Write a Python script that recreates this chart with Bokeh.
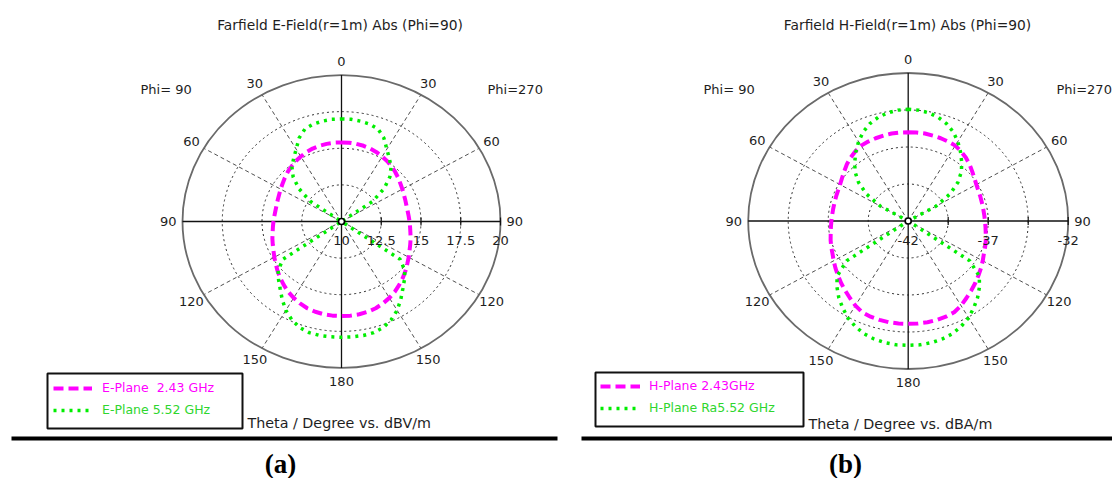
import numpy as np
from bokeh.plotting import figure
from bokeh.models import Range1d, Label, Legend, LegendItem, BoxAnnotation
from bokeh.layouts import row
from bokeh.embed import file_html
from bokeh.resources import INLINE

# ---------------- data (theta in degrees, 0..180, mirrored for Phi=90 side) -------------
theta_deg = list(range(0, 181, 5))

# (a) E-field, dBV/m
e_plane_243 = [15.40, 15.40, 15.38, 15.35, 15.30, 15.22, 15.12, 15.02, 14.90, 14.78,
               14.65, 14.52, 14.42, 14.33, 14.27, 14.23, 14.22, 14.24, 14.28, 14.33,
               14.40, 14.50, 14.60, 14.72, 14.88, 15.05, 15.25, 15.45, 15.65, 15.85,
               16.02, 16.17, 16.30, 16.38, 16.43, 16.45, 16.45]
e_plane_552 = [17.00, 17.00, 16.95, 16.88, 16.72, 16.30, 15.70, 15.25, 14.85, 14.30,
               13.50, 12.40, 10.00, 10.00, 10.00, 10.00, 10.00, 10.00, 10.00, 10.00,
               10.00, 10.00, 10.00, 10.00, 10.00, 14.50, 15.20, 15.60, 16.00, 16.50,
               17.00, 17.40, 17.70, 17.85, 17.90, 17.90, 17.90]

# (b) H-field, dBA/m
h_plane_243 = [-36.00, -36.00, -36.00, -36.03, -36.05, -36.08, -36.12, -36.25, -36.40, -36.58,
               -36.78, -36.95, -37.08, -37.16, -37.20, -37.23, -37.24, -37.23, -37.20, -37.15,
               -37.08, -36.98, -36.88, -36.78, -36.62, -36.45, -36.27, -36.07, -35.87, -35.65,
               -35.40, -35.20, -35.12, -35.08, -35.05, -35.05, -35.05]
h_plane_552 = [-34.45, -34.48, -34.58, -34.75, -35.00, -35.35, -35.80, -36.30, -36.80, -37.30,
               -37.95, -38.80, -40.00, -42.00, -42.00, -42.00, -42.00, -42.00, -42.00, -42.00,
               -42.00, -42.00, -42.00, -42.00, -42.00, -37.30, -36.20, -35.70, -35.25, -34.85,
               -34.45, -34.15, -33.90, -33.75, -33.65, -33.60, -33.60]

e_rings = [10, 12.5, 15, 17.5, 20]
e_ring_labels = ["10", "12.5", "15", "17.5", "20"]
h_rings = [-42, -39.5, -37, -34.5, -32]
h_ring_labels = ["-42", "", "-37", "", "-32"]

angle_positions = [0, 30, 60, 90, 120, 150, 180, 210, 240, 270, 300, 330]
angle_labels = ["0", "30", "60", "90", "120", "150", "180", "150", "120", "90", "60", "30"]
spoke_angles = [30, 60, 120, 150, 210, 240, 300, 330]

FONT = "DejaVu Sans"
TXT = "#1e1e1e"
MAGENTA = "#ff00ff"
GREEN = "#00ee00"
GREEN_TXT = "#2ed62e"
H = 478
OY = 0  # page offset of the figures (measured: page content starts at 0)


def polar_xy(vals, rmin, rmax):
    th = np.deg2rad(np.array(theta_deg, dtype=float))
    v = np.clip(np.array(vals, dtype=float), rmin, rmax) - rmin
    phi = np.concatenate([th, 2 * np.pi - th[::-1][1:]])
    r = np.concatenate([v, v[::-1][1:]])
    return r * np.sin(phi), r * np.cos(phi)


def panel(cfg):
    W, ox = cfg["W"], cfg["ox"]
    cx, cy = cfg["cx"] - ox, cfg["cy"] - OY
    kx, ky = cfg["kx"], cfg["ky"]
    rmin, rmax = cfg["rings"][0], cfg["rings"][-1]
    R = rmax - rmin

    def X(px):
        return (px - ox - cx) / kx

    def Y(py):
        return (cy - (py - OY)) / ky

    p = figure(width=W, height=H, output_backend="svg", toolbar_location=None,
               x_range=Range1d(-cx / kx, (W - cx) / kx),
               y_range=Range1d(-(H - cy) / ky, cy / ky),
               x_axis_location=None, y_axis_location=None,
               min_border=0, outline_line_color=None)
    p.grid.visible = False

    # rings
    for rv in cfg["rings"][1:-1]:
        d = 2 * (rv - rmin)
        p.ellipse(x=0, y=0, width=d, height=d, fill_color=None,
                  line_color="#2e2e2e", line_width=1, line_dash="2 3")
    # spokes
    sa = np.deg2rad(np.array(spoke_angles, dtype=float))
    p.segment(x0=np.zeros(len(sa)), y0=np.zeros(len(sa)), x1=R * np.sin(sa), y1=R * np.cos(sa),
              line_color="#505050", line_width=1, line_dash="4 3")
    # outer circle
    p.ellipse(x=0, y=0, width=2 * R, height=2 * R, fill_color=None,
              line_color="#6a6a6a", line_width=1.8)
    # main axes
    p.segment(x0=[-R, 0], y0=[0, -R], x1=[R, 0], y1=[0, R], line_color="#111111", line_width=1.3)
    # ticks on radial axis
    tv = np.array(cfg["rings"][1:], dtype=float) - rmin
    p.segment(x0=tv, y0=np.full(len(tv), -4 / ky), x1=tv, y1=np.full(len(tv), 4 / ky),
              line_color="#111111", line_width=1.2)

    # curves
    x1, y1 = polar_xy(cfg["s1"], rmin, rmax)
    x2, y2 = polar_xy(cfg["s2"], rmin, rmax)
    r1 = p.line(x1, y1, line_color=MAGENTA, line_width=4, line_dash="10 5")
    r2 = p.line(x2, y2, line_color=GREEN, line_width=3.5, line_dash="3 5")

    p.scatter([0], [0], size=6, marker="circle", fill_color="white",
              line_color="black", line_width=1.6)

    # angle labels
    aa = np.deg2rad(np.array(angle_positions, dtype=float))
    p.text(x=1.09 * R * np.sin(aa), y=1.09 * R * np.cos(aa), text=angle_labels,
           text_align="center", text_baseline="middle", text_font_size="13px",
           text_color=TXT, text_font={"value": FONT})
    # radial labels
    rl = np.array(cfg["rings"], dtype=float) - rmin
    p.text(x=rl, y=np.full(len(rl), -19 / ky), text=cfg["ring_labels"],
           text_align="center", text_baseline="middle", text_font_size="13px",
           text_color=TXT, text_font={"value": FONT})

    def lab(px, py, text, align="left", size="13px", color=TXT, font=FONT, style="normal"):
        p.add_layout(Label(x=X(px), y=Y(py), text=text, text_align=align,
                           text_baseline="middle", text_font_size=size, text_color=color,
                           text_font=font, text_font_style=style))

    lab(cfg["title_pos"][0], cfg["title_pos"][1], cfg["title"], "center", "13.8px")
    lab(cfg["phi90"][0], cfg["phi90"][1], "Phi= 90")
    lab(cfg["phi270"][0], cfg["phi270"][1], "Phi=270")
    lab(cfg["unit_pos"][0], cfg["unit_pos"][1], cfg["unit"], "left", "14.3px")
    lab(cfg["cap_pos"][0], cfg["cap_pos"][1], cfg["caption"], "center", "27px",
        "black", "Liberation Serif", "bold")

    # legend frame
    b = cfg["box"]
    p.add_layout(BoxAnnotation(left=X(b[0]), right=X(b[2]), top=Y(b[1]), bottom=Y(b[3]),
                               fill_color=None, fill_alpha=0, line_color="#111111",
                               line_width=2, line_alpha=1))
    # rule
    rr = cfg["rule"]
    p.add_layout(BoxAnnotation(left=X(rr[0]), right=X(rr[2]), top=Y(rr[1]), bottom=Y(rr[3]),
                               fill_color="black", fill_alpha=1, line_alpha=0))

    # legends
    gh = 14
    for rend, name, ypos, col in [(r1, cfg["names"][0], cfg["leg_y"][0], MAGENTA),
                                  (r2, cfg["names"][1], cfg["leg_y"][1], GREEN_TXT)]:
        leg = Legend(items=[LegendItem(label=name, renderers=[rend])],
                     location=(cfg["leg_x"] - ox, H - (ypos - OY) - gh / 2),
                     padding=0, spacing=0, margin=0, border_line_alpha=0,
                     background_fill_alpha=0, glyph_width=cfg["gw"], glyph_height=gh,
                     label_height=gh, label_standoff=cfg["standoff"],
                     label_text_font=FONT, label_text_font_size="12.5px",
                     label_text_color=col, label_text_baseline="middle")
        p.add_layout(leg)
    return p


left = dict(W=566, ox=0, cx=341, cy=221, kx=15.9, ky=14.65,
            rings=e_rings, ring_labels=e_ring_labels, s1=e_plane_243, s2=e_plane_552,
            names=["E-Plane  2.43 GHz", "E-Plane 5.52 GHz"],
            title="Farfield E-Field(r=1m) Abs (Phi=90)", title_pos=(339.5, 24),
            phi90=(140, 89), phi270=(487, 89),
            unit="Theta / Degree vs. dBV/m", unit_pos=(247, 422),
            caption="(a)", cap_pos=(280, 463),
            box=(47, 373, 242, 428), rule=(11, 436, 557, 440),
            leg_x=53, leg_y=(388, 410), gw=39, standoff=10)

right = dict(W=546, ox=566, cx=907.7, cy=220.5, kx=16.0, ky=14.8,
             rings=h_rings, ring_labels=h_ring_labels, s1=h_plane_243, s2=h_plane_552,
             names=["H-Plane 2.43GHz", "H-Plane Ra5.52 GHz"],
             title="Farfield H-Field(r=1m) Abs (Phi=90)", title_pos=(907, 24),
             phi90=(703, 89), phi270=(1056, 89),
             unit="Theta / Degree vs. dBA/m", unit_pos=(808, 423),
             caption="(b)", cap_pos=(845, 463),
             box=(595, 372, 803, 426), rule=(581, 436, 1112, 440),
             leg_x=600, leg_y=(386, 408), gw=40, standoff=9)

p1 = panel(left)
p2 = panel(right)
layout = row(p1, p2, spacing=0)

open("out.html", "w").write(file_html(layout, INLINE))
